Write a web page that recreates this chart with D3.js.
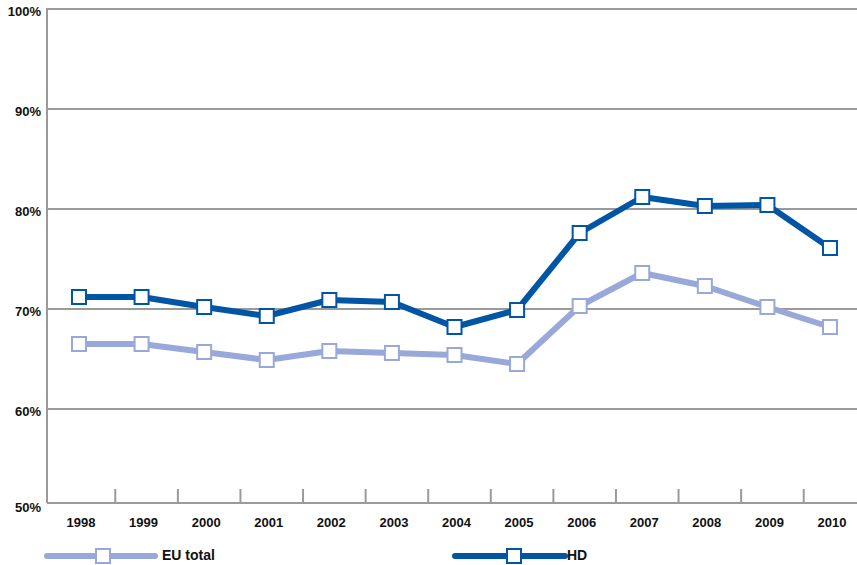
<!DOCTYPE html>
<html><head><meta charset="utf-8">
<script src="https://cdn.jsdelivr.net/npm/d3@7"></script>
<style>body{margin:0;background:#fff}text{font-family:"Liberation Sans",Arial,sans-serif;font-weight:bold;fill:#111}</style>
</head><body><svg id="c" width="857" height="565"></svg>
<script>
const years = ["1998","1999","2000","2001","2002","2003","2004","2005","2006","2007","2008","2009","2010"];
const euTotal = [66.5,66.5,65.7,64.9,65.8,65.6,65.4,64.5,70.3,73.6,72.3,70.2,68.2];
const hd = [71.2,71.2,70.2,69.3,70.9,70.7,68.2,69.9,77.6,81.2,80.3,80.4,76.1];
const yTicks = [50,60,70,80,90,100];
const seriesNames = ["EU total","HD"];
const colors = ["#98a9d9","#0055a5"];

const svg = d3.select("#c");
const x = d3.scalePoint().domain(years).range([79,830]);
const y = d3.scaleLinear().domain([50,100]).range([509,9]);
const left = 47, right = 857, baseY = 503;

// gridlines
svg.append("g").selectAll("line").data(yTicks.filter(d=>d>50)).join("line")
  .attr("x1",left).attr("x2",right).attr("y1",d=>y(d)).attr("y2",d=>y(d))
  .attr("stroke","#9a9a9a").attr("stroke-width",2);
// y axis line
svg.append("line").attr("x1",left).attr("x2",left).attr("y1",y(100)-1).attr("y2",baseY)
  .attr("stroke","#9a9a9a").attr("stroke-width",2);
// x axis line
svg.append("line").attr("x1",left).attr("x2",right).attr("y1",baseY).attr("y2",baseY)
  .attr("stroke","#9a9a9a").attr("stroke-width",2);
// x ticks between categories
const step = x.step();
svg.append("g").selectAll("line").data(years.slice(1)).join("line")
  .attr("x1",d=>x(d)-step/2+5).attr("x2",d=>x(d)-step/2+5)
  .attr("y1",baseY-14).attr("y2",baseY)
  .attr("stroke","#9a9a9a").attr("stroke-width",2);
// y labels
svg.append("g").selectAll("text").data(yTicks).join("text")
  .attr("x",41).attr("y",d=>Math.min(y(d),505)+4).attr("text-anchor","end")
  .attr("dominant-baseline","middle").attr("font-size",13).text(d=>d+"%");
// x labels
svg.append("g").selectAll("text").data(years).join("text")
  .attr("x",d=>x(d)+2).attr("y",524).attr("text-anchor","middle")
  .attr("dominant-baseline","middle").attr("font-size",13).text(d=>d);

const series = [euTotal, hd];
const line = d3.line().x((d,i)=>x(years[i])).y(d=>y(d));
series.forEach((s,k)=>{
  svg.append("path").datum(s).attr("d",line).attr("fill","none")
    .attr("stroke",colors[k]).attr("stroke-width",6).attr("stroke-linejoin","round");
  svg.append("g").selectAll("rect").data(s).join("rect")
    .attr("x",(d,i)=>x(years[i])-7).attr("y",d=>y(d)-7).attr("width",14).attr("height",14)
    .attr("fill","#fff").attr("stroke",colors[k]).attr("stroke-width",2);
});

// legend
const legend = [{x1:47,x2:155,m:103,t:162},{x1:455,x2:565,m:514,t:567}];
legend.forEach((L,k)=>{
  const g = svg.append("g");
  g.append("line").attr("x1",L.x1).attr("x2",L.x2).attr("y1",556).attr("y2",556)
    .attr("stroke",colors[k]).attr("stroke-width",6).attr("stroke-linecap","round");
  g.append("rect").attr("x",L.m-7).attr("y",549).attr("width",14).attr("height",14)
    .attr("fill","#fff").attr("stroke",colors[k]).attr("stroke-width",2);
  g.append("text").attr("x",L.t).attr("y",556).attr("dominant-baseline","middle")
    .attr("font-size",14).text(seriesNames[k]);
});
</script></body></html>
